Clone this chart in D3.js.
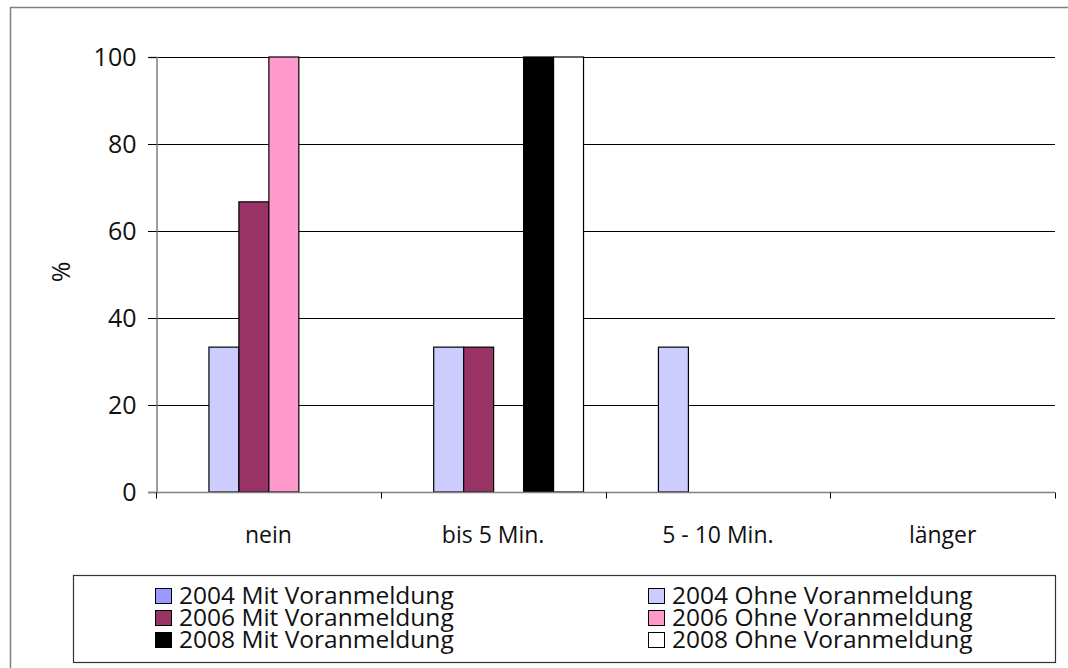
<!DOCTYPE html>
<html>
<head>
<meta charset="utf-8">
<script src="https://cdn.jsdelivr.net/npm/d3@7"></script>
<style>
  html, body { margin: 0; padding: 0; background: #fff; }
  svg { display: block; font-family: "Open Sans", "DejaVu Sans", sans-serif; }
</style>
</head>
<body>
<svg id="chart" width="1068" height="668"></svg>
<script>
// Wartezeit-Kategorien
const categories = ["nein", "bis 5 Min.", "5 - 10 Min.", "länger"];

// Serien (Anteile in %)
const seriesNames = [
  "2004 Mit Voranmeldung",
  "2004 Ohne Voranmeldung",
  "2006 Mit Voranmeldung",
  "2006 Ohne Voranmeldung",
  "2008 Mit Voranmeldung",
  "2008 Ohne Voranmeldung"
];
const v2004Mit  = [0, 0, 0, 0];
const v2004Ohne = [33.3, 33.3, 33.3, 0];
const v2006Mit  = [66.7, 33.3, 0, 0];
const v2006Ohne = [100, 0, 0, 0];
const v2008Mit  = [0, 100, 0, 0];
const v2008Ohne = [0, 100, 0, 0];
const seriesValues = [v2004Mit, v2004Ohne, v2006Mit, v2006Ohne, v2008Mit, v2008Ohne];
const seriesColors = ["#9999FF", "#CCCCFF", "#993366", "#FF99CC", "#000000", "#FFFFFF"];
const yTicks = [0, 20, 40, 60, 80, 100];

const svg = d3.select("#chart");

// Äußerer Rahmen
svg.append("path")
  .attr("d", "M10.5,668 V7.5 H1068")
  .attr("fill", "none").attr("stroke", "#808080").attr("stroke-width", 1.5);

const plot = { left: 156, right: 1055, top: 57, bottom: 492 };

const x0 = d3.scaleBand().domain(categories)
  .range([plot.left, plot.right]).paddingInner(0).paddingOuter(0);
const x1 = d3.scaleBand().domain(seriesNames)
  .range([0, x0.bandwidth()]).paddingInner(0).paddingOuter(0.75);
const y = d3.scaleLinear().domain([0, 100]).range([plot.bottom, plot.top]);

// Gitternetzlinien
svg.append("g").selectAll("line")
  .data(yTicks.filter(t => t > 0))
  .join("line")
  .attr("x1", plot.left - 8).attr("x2", plot.right)
  .attr("y1", d => Math.round(y(d)) + 0.5).attr("y2", d => Math.round(y(d)) + 0.5)
  .attr("stroke", "#000").attr("stroke-width", 1);

// Balken
const rows = [];
seriesNames.forEach((s, si) => {
  categories.forEach((c, ci) => {
    rows.push({ series: s, cat: c, value: seriesValues[si][ci], color: seriesColors[si] });
  });
});
svg.append("g").selectAll("rect")
  .data(rows.filter(d => d.value > 0))
  .join("rect")
  .attr("x", d => x0(d.cat) + x1(d.series) + 0.5)
  .attr("y", d => y(d.value))
  .attr("width", x1.bandwidth())
  .attr("height", d => y(0) - y(d.value))
  .attr("fill", d => d.color)
  .attr("stroke", "#000").attr("stroke-width", 1.2);

// Y-Achse
const yAxis = svg.append("g")
  .attr("transform", `translate(${plot.left + 0.5},0)`)
  .call(d3.axisLeft(y).tickValues(yTicks).tickSize(8).tickPadding(12));
yAxis.attr("font-size", null).attr("font-family", null);
yAxis.select(".domain").attr("stroke", "#808080").attr("stroke-width", 1.5);
yAxis.selectAll(".tick line").attr("stroke", "#000");
yAxis.selectAll("text").style("font-size", "25px").attr("fill", "#111");

// X-Achse
const xAxis = svg.append("g")
  .attr("transform", `translate(0,${plot.bottom + 0.5})`);
xAxis.append("line")
  .attr("x1", plot.left - 8).attr("x2", plot.right)
  .attr("stroke", "#808080").attr("stroke-width", 1.5);
const boundaries = categories.map(c => x0(c)).concat([plot.right]);
xAxis.selectAll(".cat-tick").data(boundaries).join("line")
  .attr("class", "cat-tick")
  .attr("x1", d => Math.round(d) + 0.5).attr("x2", d => Math.round(d) + 0.5)
  .attr("y1", 0).attr("y2", 6)
  .attr("stroke", "#000");
xAxis.selectAll(".cat-label").data(categories).join("text")
  .attr("class", "cat-label")
  .attr("x", d => x0(d) + x0.bandwidth() / 2)
  .attr("y", 50)
  .attr("text-anchor", "middle")
  .style("font-size", "23px").attr("fill", "#111")
  .text(d => d);

// Y-Achsentitel
svg.append("text")
  .attr("transform", "translate(70,272) rotate(-90)")
  .attr("text-anchor", "middle")
  .style("font-size", "25px").attr("fill", "#111")
  .text("%");

// Legende
const legend = svg.append("g");
legend.append("rect")
  .attr("x", 73.5).attr("y", 575.5).attr("width", 982).attr("height", 87)
  .attr("fill", "#fff").attr("stroke", "#333").attr("stroke-width", 1.2);
const legendCols = [155, 648];
const legendRows = [596, 618, 640];
seriesNames.forEach((s, i) => {
  const col = i % 2, row = Math.floor(i / 2);
  const g = legend.append("g")
    .attr("transform", `translate(${legendCols[col]},${legendRows[row]})`);
  g.append("rect")
    .attr("x", 0.5).attr("y", -7.5).attr("width", 16).attr("height", 15)
    .attr("fill", seriesColors[i]).attr("stroke", "#000").attr("stroke-width", 1);
  g.append("text")
    .attr("x", 24).attr("y", 8)
    .style("font-size", "24.5px").attr("fill", "#111")
    .text(s);
});
</script>
</body>
</html>
